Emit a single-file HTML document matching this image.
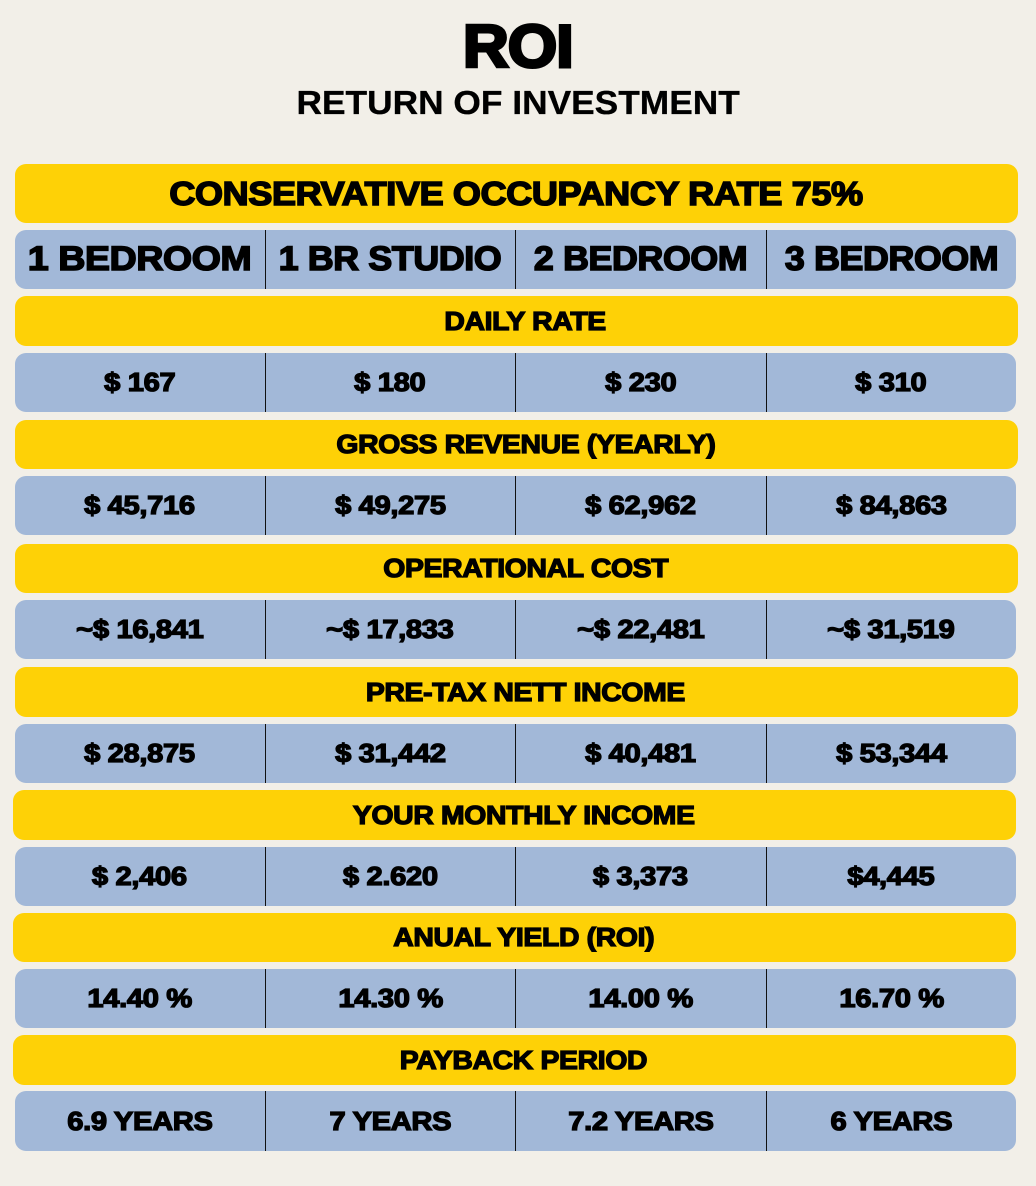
<!DOCTYPE html>
<html><head><style>
body{margin:0;width:1036px;height:1186px;background:#f2efe8;position:relative;font-family:"Liberation Sans",sans-serif;overflow:hidden}
.t{position:absolute;left:0;width:1036px;text-align:center;color:#000}
.r{position:absolute;border-radius:11px;display:flex;align-items:center;justify-content:center;font-weight:bold;color:#000;-webkit-text-stroke:1.3px #000;letter-spacing:-0.3px;box-sizing:border-box}
span{display:inline-block;transform:scaleX(1.12)}
.y{background:#fed106;font-size:26px;padding-left:18px}
.y span{transform:scaleX(1.09)}
.b{background:#a2b8d8;font-size:26px}
.b div{flex:1;text-align:center;height:100%;display:flex;align-items:center;justify-content:center}
.b div+div{border-left:1.5px solid #111}
</style></head><body>
<div class="t" style="top:12px;font-size:60px;font-weight:bold;-webkit-text-stroke:3px #000;letter-spacing:-1px"><span style="transform:scaleX(1.06)">ROI</span></div>
<div class="t" style="top:84px;font-size:33px;font-weight:bold;-webkit-text-stroke:0.3px #000"><span style="transform:scaleX(1.07)">RETURN OF INVESTMENT</span></div>

<div class="r y" style="left:15px;top:164px;width:1003px;height:59px;font-size:33px;-webkit-text-stroke:1.6px #000;padding-left:0"><span style="transform:scaleX(1.09)">CONSERVATIVE OCCUPANCY RATE 75%</span></div>
<div class="r b" style="left:15px;top:230px;width:1001px;height:59px;font-size:34px;-webkit-text-stroke:1.6px #000"><div><span style="transform:scaleX(1.1)">1 BEDROOM</span></div><div><span style="transform:scaleX(1.05)">1 BR STUDIO</span></div><div><span style="transform:scaleX(1.05)">2 BEDROOM</span></div><div><span style="transform:scaleX(1.05)">3 BEDROOM</span></div></div>

<div class="r y" style="left:15px;top:296px;width:1003px;height:50px"><span>DAILY RATE</span></div>
<div class="r b" style="left:15px;top:353px;width:1001px;height:59px"><div><span>$ 167</span></div><div><span>$ 180</span></div><div><span>$ 230</span></div><div><span>$ 310</span></div></div>

<div class="r y" style="left:15px;top:420px;width:1003px;height:49px"><span>GROSS REVENUE (YEARLY)</span></div>
<div class="r b" style="left:15px;top:476px;width:1001px;height:59px"><div><span>$ 45,716</span></div><div><span>$ 49,275</span></div><div><span>$ 62,962</span></div><div><span>$ 84,863</span></div></div>

<div class="r y" style="left:15px;top:544px;width:1003px;height:49px"><span>OPERATIONAL COST</span></div>
<div class="r b" style="left:15px;top:600px;width:1001px;height:59px"><div><span>~$ 16,841</span></div><div><span>~$ 17,833</span></div><div><span>~$ 22,481</span></div><div><span>~$ 31,519</span></div></div>

<div class="r y" style="left:15px;top:667px;width:1003px;height:50px"><span>PRE-TAX NETT INCOME</span></div>
<div class="r b" style="left:15px;top:724px;width:1001px;height:59px"><div><span>$ 28,875</span></div><div><span>$ 31,442</span></div><div><span>$ 40,481</span></div><div><span>$ 53,344</span></div></div>

<div class="r y" style="left:13px;top:790px;width:1003px;height:50px"><span>YOUR MONTHLY INCOME</span></div>
<div class="r b" style="left:15px;top:847px;width:1001px;height:59px"><div><span>$ 2,406</span></div><div><span>$ 2.620</span></div><div><span>$ 3,373</span></div><div><span>$4,445</span></div></div>

<div class="r y" style="left:13px;top:913px;width:1003px;height:49px"><span>ANUAL YIELD (ROI)</span></div>
<div class="r b" style="left:15px;top:969px;width:1001px;height:59px"><div><span>14.40 %</span></div><div><span>14.30 %</span></div><div><span>14.00 %</span></div><div><span>16.70 %</span></div></div>

<div class="r y" style="left:13px;top:1035px;width:1003px;height:50px"><span>PAYBACK PERIOD</span></div>
<div class="r b" style="left:15px;top:1091px;width:1001px;height:60px"><div><span>6.9 YEARS</span></div><div><span>7 YEARS</span></div><div><span>7.2 YEARS</span></div><div><span>6 YEARS</span></div></div>
</body></html>
